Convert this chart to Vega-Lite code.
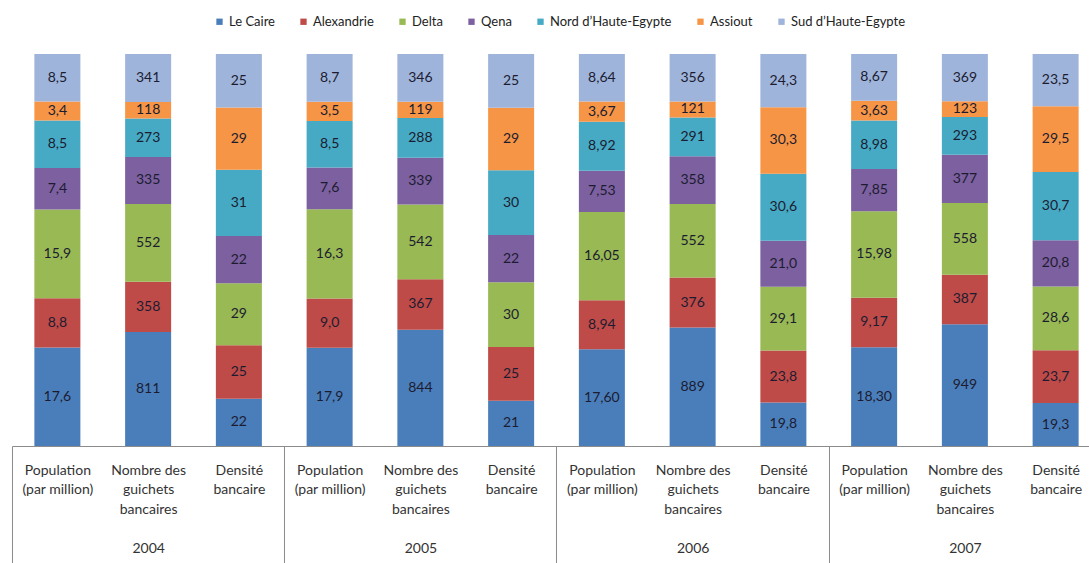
{
  "$schema": "https://vega.github.io/schema/vega-lite/v6.json",
  "width": 1077,
  "height": 392,
  "autosize": {"type": "none"},
  "padding": {"left": 12, "top": 54, "right": 0, "bottom": 117},
  "background": "white",
  "config": {"view": {"stroke": null}, "font": "Lato"},
  "data": {"values": [
    {"bar": "2004|Population", "region": "Le Caire", "ord": 1, "value": 17.6, "label": "17,6"},
    {"bar": "2004|Population", "region": "Alexandrie", "ord": 2, "value": 8.8, "label": "8,8"},
    {"bar": "2004|Population", "region": "Delta", "ord": 3, "value": 15.9, "label": "15,9"},
    {"bar": "2004|Population", "region": "Qena", "ord": 4, "value": 7.4, "label": "7,4"},
    {"bar": "2004|Population", "region": "Nord d’Haute-Egypte", "ord": 5, "value": 8.5, "label": "8,5"},
    {"bar": "2004|Population", "region": "Assiout", "ord": 6, "value": 3.4, "label": "3,4"},
    {"bar": "2004|Population", "region": "Sud d’Haute-Egypte", "ord": 7, "value": 8.5, "label": "8,5"},
    {"bar": "2004|Nombre", "region": "Le Caire", "ord": 1, "value": 811, "label": "811"},
    {"bar": "2004|Nombre", "region": "Alexandrie", "ord": 2, "value": 358, "label": "358"},
    {"bar": "2004|Nombre", "region": "Delta", "ord": 3, "value": 552, "label": "552"},
    {"bar": "2004|Nombre", "region": "Qena", "ord": 4, "value": 335, "label": "335"},
    {"bar": "2004|Nombre", "region": "Nord d’Haute-Egypte", "ord": 5, "value": 273, "label": "273"},
    {"bar": "2004|Nombre", "region": "Assiout", "ord": 6, "value": 118, "label": "118"},
    {"bar": "2004|Nombre", "region": "Sud d’Haute-Egypte", "ord": 7, "value": 341, "label": "341"},
    {"bar": "2004|Densite", "region": "Le Caire", "ord": 1, "value": 22, "label": "22"},
    {"bar": "2004|Densite", "region": "Alexandrie", "ord": 2, "value": 25, "label": "25"},
    {"bar": "2004|Densite", "region": "Delta", "ord": 3, "value": 29, "label": "29"},
    {"bar": "2004|Densite", "region": "Qena", "ord": 4, "value": 22, "label": "22"},
    {"bar": "2004|Densite", "region": "Nord d’Haute-Egypte", "ord": 5, "value": 31, "label": "31"},
    {"bar": "2004|Densite", "region": "Assiout", "ord": 6, "value": 29, "label": "29"},
    {"bar": "2004|Densite", "region": "Sud d’Haute-Egypte", "ord": 7, "value": 25, "label": "25"},
    {"bar": "2005|Population", "region": "Le Caire", "ord": 1, "value": 17.9, "label": "17,9"},
    {"bar": "2005|Population", "region": "Alexandrie", "ord": 2, "value": 9.0, "label": "9,0"},
    {"bar": "2005|Population", "region": "Delta", "ord": 3, "value": 16.3, "label": "16,3"},
    {"bar": "2005|Population", "region": "Qena", "ord": 4, "value": 7.6, "label": "7,6"},
    {"bar": "2005|Population", "region": "Nord d’Haute-Egypte", "ord": 5, "value": 8.5, "label": "8,5"},
    {"bar": "2005|Population", "region": "Assiout", "ord": 6, "value": 3.5, "label": "3,5"},
    {"bar": "2005|Population", "region": "Sud d’Haute-Egypte", "ord": 7, "value": 8.7, "label": "8,7"},
    {"bar": "2005|Nombre", "region": "Le Caire", "ord": 1, "value": 844, "label": "844"},
    {"bar": "2005|Nombre", "region": "Alexandrie", "ord": 2, "value": 367, "label": "367"},
    {"bar": "2005|Nombre", "region": "Delta", "ord": 3, "value": 542, "label": "542"},
    {"bar": "2005|Nombre", "region": "Qena", "ord": 4, "value": 339, "label": "339"},
    {"bar": "2005|Nombre", "region": "Nord d’Haute-Egypte", "ord": 5, "value": 288, "label": "288"},
    {"bar": "2005|Nombre", "region": "Assiout", "ord": 6, "value": 119, "label": "119"},
    {"bar": "2005|Nombre", "region": "Sud d’Haute-Egypte", "ord": 7, "value": 346, "label": "346"},
    {"bar": "2005|Densite", "region": "Le Caire", "ord": 1, "value": 21, "label": "21"},
    {"bar": "2005|Densite", "region": "Alexandrie", "ord": 2, "value": 25, "label": "25"},
    {"bar": "2005|Densite", "region": "Delta", "ord": 3, "value": 30, "label": "30"},
    {"bar": "2005|Densite", "region": "Qena", "ord": 4, "value": 22, "label": "22"},
    {"bar": "2005|Densite", "region": "Nord d’Haute-Egypte", "ord": 5, "value": 30, "label": "30"},
    {"bar": "2005|Densite", "region": "Assiout", "ord": 6, "value": 29, "label": "29"},
    {"bar": "2005|Densite", "region": "Sud d’Haute-Egypte", "ord": 7, "value": 25, "label": "25"},
    {"bar": "2006|Population", "region": "Le Caire", "ord": 1, "value": 17.60, "label": "17,60"},
    {"bar": "2006|Population", "region": "Alexandrie", "ord": 2, "value": 8.94, "label": "8,94"},
    {"bar": "2006|Population", "region": "Delta", "ord": 3, "value": 16.05, "label": "16,05"},
    {"bar": "2006|Population", "region": "Qena", "ord": 4, "value": 7.53, "label": "7,53"},
    {"bar": "2006|Population", "region": "Nord d’Haute-Egypte", "ord": 5, "value": 8.92, "label": "8,92"},
    {"bar": "2006|Population", "region": "Assiout", "ord": 6, "value": 3.67, "label": "3,67"},
    {"bar": "2006|Population", "region": "Sud d’Haute-Egypte", "ord": 7, "value": 8.64, "label": "8,64"},
    {"bar": "2006|Nombre", "region": "Le Caire", "ord": 1, "value": 889, "label": "889"},
    {"bar": "2006|Nombre", "region": "Alexandrie", "ord": 2, "value": 376, "label": "376"},
    {"bar": "2006|Nombre", "region": "Delta", "ord": 3, "value": 552, "label": "552"},
    {"bar": "2006|Nombre", "region": "Qena", "ord": 4, "value": 358, "label": "358"},
    {"bar": "2006|Nombre", "region": "Nord d’Haute-Egypte", "ord": 5, "value": 291, "label": "291"},
    {"bar": "2006|Nombre", "region": "Assiout", "ord": 6, "value": 121, "label": "121"},
    {"bar": "2006|Nombre", "region": "Sud d’Haute-Egypte", "ord": 7, "value": 356, "label": "356"},
    {"bar": "2006|Densite", "region": "Le Caire", "ord": 1, "value": 19.8, "label": "19,8"},
    {"bar": "2006|Densite", "region": "Alexandrie", "ord": 2, "value": 23.8, "label": "23,8"},
    {"bar": "2006|Densite", "region": "Delta", "ord": 3, "value": 29.1, "label": "29,1"},
    {"bar": "2006|Densite", "region": "Qena", "ord": 4, "value": 21.0, "label": "21,0"},
    {"bar": "2006|Densite", "region": "Nord d’Haute-Egypte", "ord": 5, "value": 30.6, "label": "30,6"},
    {"bar": "2006|Densite", "region": "Assiout", "ord": 6, "value": 30.3, "label": "30,3"},
    {"bar": "2006|Densite", "region": "Sud d’Haute-Egypte", "ord": 7, "value": 24.3, "label": "24,3"},
    {"bar": "2007|Population", "region": "Le Caire", "ord": 1, "value": 18.30, "label": "18,30"},
    {"bar": "2007|Population", "region": "Alexandrie", "ord": 2, "value": 9.17, "label": "9,17"},
    {"bar": "2007|Population", "region": "Delta", "ord": 3, "value": 15.98, "label": "15,98"},
    {"bar": "2007|Population", "region": "Qena", "ord": 4, "value": 7.85, "label": "7,85"},
    {"bar": "2007|Population", "region": "Nord d’Haute-Egypte", "ord": 5, "value": 8.98, "label": "8,98"},
    {"bar": "2007|Population", "region": "Assiout", "ord": 6, "value": 3.63, "label": "3,63"},
    {"bar": "2007|Population", "region": "Sud d’Haute-Egypte", "ord": 7, "value": 8.67, "label": "8,67"},
    {"bar": "2007|Nombre", "region": "Le Caire", "ord": 1, "value": 949, "label": "949"},
    {"bar": "2007|Nombre", "region": "Alexandrie", "ord": 2, "value": 387, "label": "387"},
    {"bar": "2007|Nombre", "region": "Delta", "ord": 3, "value": 558, "label": "558"},
    {"bar": "2007|Nombre", "region": "Qena", "ord": 4, "value": 377, "label": "377"},
    {"bar": "2007|Nombre", "region": "Nord d’Haute-Egypte", "ord": 5, "value": 293, "label": "293"},
    {"bar": "2007|Nombre", "region": "Assiout", "ord": 6, "value": 123, "label": "123"},
    {"bar": "2007|Nombre", "region": "Sud d’Haute-Egypte", "ord": 7, "value": 369, "label": "369"},
    {"bar": "2007|Densite", "region": "Le Caire", "ord": 1, "value": 19.3, "label": "19,3"},
    {"bar": "2007|Densite", "region": "Alexandrie", "ord": 2, "value": 23.7, "label": "23,7"},
    {"bar": "2007|Densite", "region": "Delta", "ord": 3, "value": 28.6, "label": "28,6"},
    {"bar": "2007|Densite", "region": "Qena", "ord": 4, "value": 20.8, "label": "20,8"},
    {"bar": "2007|Densite", "region": "Nord d’Haute-Egypte", "ord": 5, "value": 30.7, "label": "30,7"},
    {"bar": "2007|Densite", "region": "Assiout", "ord": 6, "value": 29.5, "label": "29,5"},
    {"bar": "2007|Densite", "region": "Sud d’Haute-Egypte", "ord": 7, "value": 23.5, "label": "23,5"}
  ]},
  "encoding": {
    "x": {
      "field": "bar",
      "type": "nominal",
      "sort": null,
      "scale": {"range": [0, 1089], "paddingInner": 0.493, "paddingOuter": 0.2465},
      "axis": {
        "title": null,
        "domainColor": "#8c8c8c",
        "domainWidth": 1,
        "ticks": true,
        "tickSize": 120,
        "tickColor": "#8c8c8c",
        "tickWidth": 1,
        "bandPosition": 0,
        "tickOffset": -22.37,
        "labelOffset": 22.37,
        "tickOpacity": {"condition": {"test": "indexof(datum.value,'Population')>=0", "value": 1}, "value": 0},
        "labelPadding": -103,
        "labelAngle": 0,
        "labelAlign": "center",
        "labelBaseline": "top",
        "labelOverlap": false,
        "labelFont": "Lato",
        "labelFontSize": 14,
        "labelColor": "#333333",
        "labelLineHeight": 19.5,
        "labelExpr": "indexof(datum.value,'Population')>=0 ? ['Population','(par million)'] : indexof(datum.value,'Nombre')>=0 ? ['Nombre des','guichets','bancaires','\u2800',slice(datum.value,0,4)] : ['Densité','bancaire']"
      }
    }
  },
  "layer": [
    {
      "mark": {"type": "bar"},
      "encoding": {
        "y": {"field": "value", "type": "quantitative", "stack": "normalize", "axis": null},
        "color": {
          "field": "region",
          "type": "nominal",
          "scale": {
            "domain": ["Le Caire", "Alexandrie", "Delta", "Qena", "Nord d’Haute-Egypte", "Assiout", "Sud d’Haute-Egypte"],
            "range": ["#4A7EBB", "#BE4B48", "#98B954", "#7D60A0", "#46AAC5", "#F69546", "#9FB4DB"]
          },
          "legend": {
            "title": null,
            "orient": "none",
            "legendX": 201,
            "legendY": -39,
            "direction": "horizontal",
            "columns": 7,
            "symbolType": "square",
            "symbolSize": 40,
            "symbolStrokeWidth": 0,
            "labelFont": "Lato",
            "labelFontSize": 13,
            "labelColor": "#222222",
            "labelOffset": 3,
            "columnPadding": 22
          }
        },
        "order": {"field": "ord"}
      }
    },
    {
      "mark": {"type": "text", "fontSize": 14, "color": "#1c1c30", "align": "center", "baseline": "middle", "font": "Lato"},
      "encoding": {
        "y": {"field": "value", "type": "quantitative", "stack": "normalize", "bandPosition": 0.5},
        "detail": {"field": "region"},
        "text": {"field": "label"},
        "order": {"field": "ord"}
      }
    }
  ]
}
